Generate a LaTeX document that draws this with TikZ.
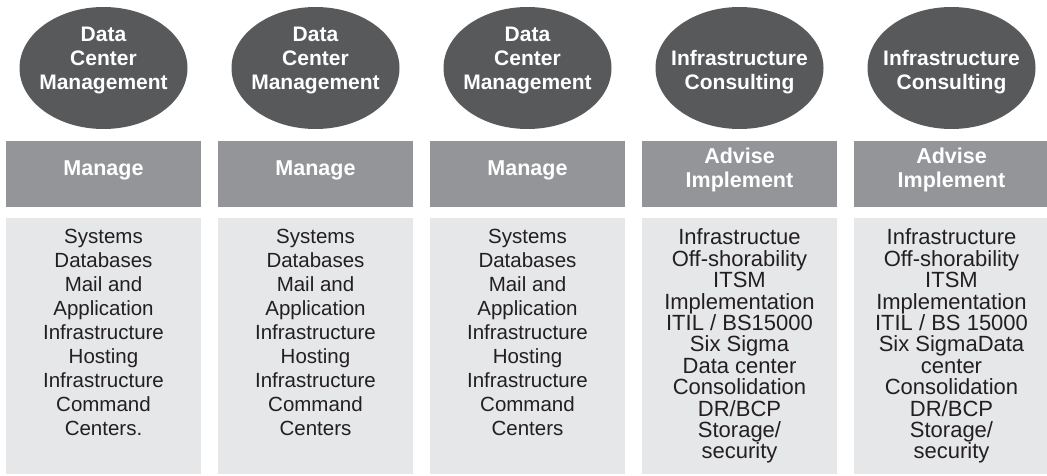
\documentclass[tikz,border=0pt]{standalone}
\usepackage{fontspec}
\setmainfont{Liberation Sans}
\usetikzlibrary{shapes.geometric}

\definecolor{bubblegray}{HTML}{58595B}
\definecolor{headgray}{HTML}{939598}
\definecolor{bodygray}{HTML}{E6E7E8}
\definecolor{textgray}{HTML}{231F20}

\tikzset{
    bubble/.style={ellipse, fill=bubblegray, minimum width=168pt, minimum height=122pt, inner sep=0},
    bubbletext/.style={text=white, font=\fontsize{21}{24}\selectfont\bfseries, align=center, inner sep=0, anchor=south},
    headbox/.style={fill=headgray, minimum width=195pt, minimum height=66pt, inner sep=0},
    headtext/.style={text=white, font=\fontsize{21.5}{24}\selectfont\bfseries, align=center, inner sep=0},
    bodybox/.style={fill=bodygray, minimum width=195pt, minimum height=256pt, inner sep=0},
    bodytext/.style={text=textgray, align=center, inner sep=0, anchor=north}
}

\begin{document}
\begin{tikzpicture}[x=1pt, y=1pt]
    \useasboundingbox (0, 0) rectangle (1047, 475);
    \foreach \i/\head/\task/\fs/\ls/\items in {
        1/{Data\\Center\\Management}/{Manage}/20.5/24/{Systems\\Databases\\Mail and\\Application\\Infrastructure\\Hosting\\Infrastructure\\Command\\Centers.},
        2/{Data\\Center\\Management}/{Manage}/20.5/24/{Systems\\Databases\\Mail and\\Application\\Infrastructure\\Hosting\\Infrastructure\\Command\\Centers},
        3/{Data\\Center\\Management}/{Manage}/20.5/24/{Systems\\Databases\\Mail and\\Application\\Infrastructure\\Hosting\\Infrastructure\\Command\\Centers},
        4/{Infrastructure\\Consulting}/{Advise\\Implement}/22/21.4/{Infrastructue\\Off-shorability\\ITSM\\Implementation\\ITIL / BS15000\\Six Sigma\\Data center\\Consolidation\\DR/BCP\\Storage/\\security},
        5/{Infrastructure\\Consulting}/{Advise\\Implement}/22/21.4/{Infrastructure\\Off-shorability\\ITSM\\Implementation\\ITIL / BS 15000\\Six SigmaData\\center\\Consolidation\\DR/BCP\\Storage/\\security}}
        {\node[bubble] (e\i) at ({103.5 + 212*(\i - 1)}, 407) {};
        \node[bubbletext] (et\i) at ([yshift=-26.5]e\i.center) {\head};
        \node[headbox] (h\i) at ({103.5 + 212*(\i - 1)}, 301) {};
        \node[headtext] (ht\i) at ([yshift=4]h\i.center) {\task};
        \node[bodybox] (b\i) at ({103.5 + 212*(\i - 1)}, 129) {};
        \node[bodytext, font=\fontsize{\fs}{\ls}\selectfont] (bt\i) at ([yshift=-11]b\i.north) {\items};}
\end{tikzpicture}
\end{document}
